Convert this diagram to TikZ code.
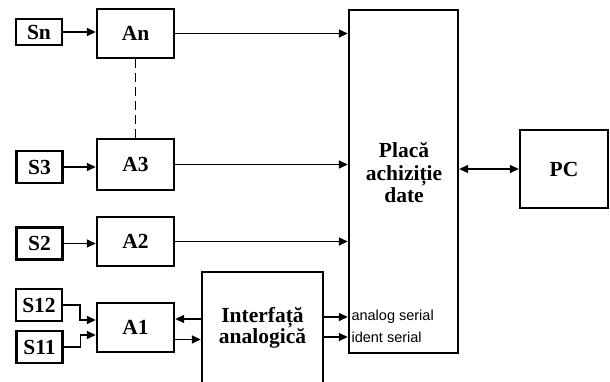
\documentclass[tikz,border=0pt]{standalone}
\usepackage{fontspec}
\setmainfont{Liberation Serif}
\newfontfamily\labelsans{Liberation Sans}
\usetikzlibrary{arrows.meta}

\begin{document}
\begin{tikzpicture}[x=1pt,y=-1pt,
  box/.style={draw,line width=2.4pt,inner sep=0pt,align=center,
    font=\fontsize{21.5}{21}\selectfont\bfseries},
  sbox/.style={box,minimum width=46pt,minimum height=32pt},
  abox/.style={box,minimum width=77pt,minimum height=49pt},
  arr/.style={line width=1.5pt,-{Triangle[length=9pt,width=8pt]}},
  tag/.style={anchor=west,inner sep=0pt,xshift=3pt,
    font=\labelsans\fontsize{14.5}{15}\selectfont}]
  \clip (0,0) rectangle (610,382);
  \node[sbox,minimum height=26pt] (sn) at (39,32) {Sn};
  \node[abox] (an) at (135.5,33.5) {An};
  \node[sbox] (s3) at (39.5,167) {S3};
  \node[abox,minimum height=51pt] (a3) at (135.5,164.5) {A3};
  \node[sbox] (s2) at (39.5,243.5) {S2};
  \node[abox] (a2) at (135.5,241.5) {A2};
  \node[sbox] (s12) at (39,305) {S12};
  \node[sbox] (s11) at (39.5,347) {S11};
  \node[abox] (a1) at (135.5,327.5) {A1};
  \node[box,minimum width=121pt,minimum height=112pt] (interf) at (262.5,328) {Interfață\\analogică};
  \node[box,minimum width=109pt,minimum height=343pt] (placa) at (403.5,181.5) {};
  \node[align=center,font=\fontsize{21.5}{22.5}\selectfont\bfseries] (placat) at (404,173) {Placă\\achiziție\\date};
  \node[box,minimum width=88pt,minimum height=78pt] (pc) at (564,169) {PC};
  \draw[arr] (sn.east) -- (sn.east -| an.west);
  \draw[arr] (s3.east) -- (s3.east -| a3.west);
  \draw[arr] (s2.east) -- (s2.east -| a2.west);
  \draw[arr] (s12.east) -- ++(17,0) |- ([yshift=7.5pt]a1.west);
  \draw[arr] (s11.east) -- ++(17,0) |- ([yshift=-7.5pt]a1.west);
  \draw[line width=1.8pt,dash pattern=on 9pt off 5pt] (an.south) -- (a3.north);
  \draw[arr] (an.east) -- (an.east -| placa.west);
  \draw[arr] (a3.east) -- (a3.east -| placa.west);
  \draw[arr] (a2.east) -- (a2.east -| placa.west);
  \draw[arr] ([yshift=8.5pt]a1.east -| interf.west) -- ([yshift=8.5pt]a1.east);
  \draw[arr] ([yshift=-12pt]a1.east) -- ([yshift=-12pt]a1.east -| interf.west);
  \draw[arr] ([yshift=11pt]interf.east) -- ([yshift=11pt]interf.east -| placa.west) node[tag] (aser) {analog serial};
  \draw[arr] ([yshift=-9pt]interf.east) -- ([yshift=-9pt]interf.east -| placa.west) node[tag] (iser) {ident serial};
  \draw[line width=1.5pt,{Triangle[length=9pt,width=8pt]}-{Triangle[length=9pt,width=8pt]}] (placa.east |- pc.west) -- (pc.west);
\end{tikzpicture}
\end{document}
